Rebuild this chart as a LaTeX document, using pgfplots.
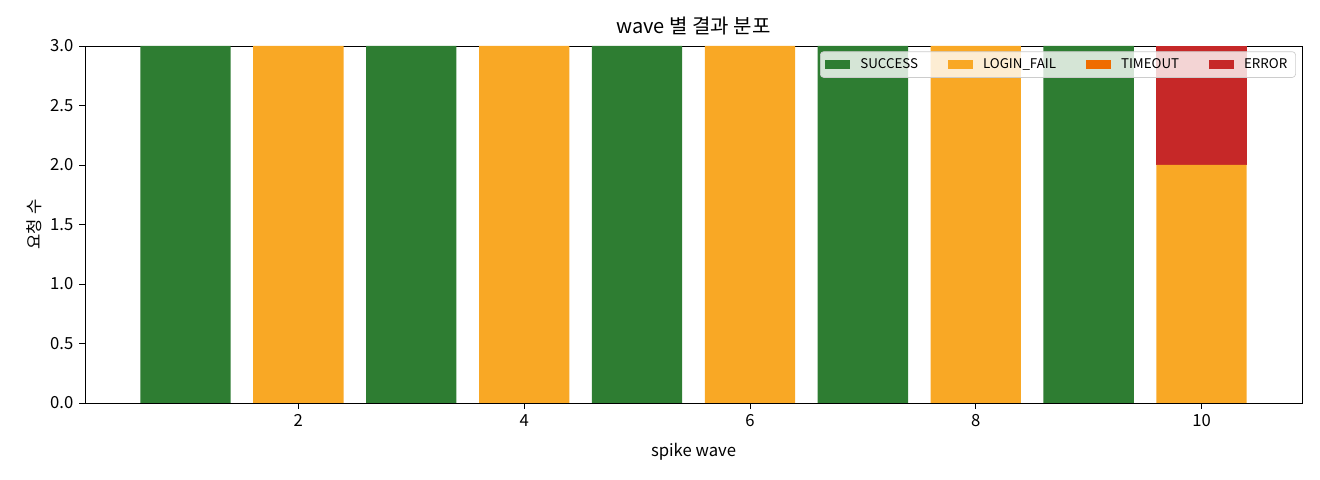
\documentclass[border=0pt]{standalone}
\usepackage{pgfplots}
\pgfplotsset{compat=1.18}
\usepackage{fontspec}
\setmainfont{Noto Sans CJK KR}
\definecolor{cSuccess}{HTML}{2E7D32}
\definecolor{cLogin}{HTML}{F9A825}
\definecolor{cTimeout}{HTML}{EF6C00}
\definecolor{cError}{HTML}{C62828}
\begin{document}
\begin{tikzpicture}[font=\fontsize{10pt}{12pt}\selectfont]
  \path (0,0) rectangle (792pt,288pt);
  \begin{axis}[
    at={(51pt,46.2pt)}, anchor=south west,
    scale only axis,
    width=730.2pt, height=214.2pt,
    ybar stacked,
    bar width=0.8,
    xmin=0.11, xmax=10.89,
    ymin=0, ymax=3,
    xtick={2,4,6,8,10},
    ytick={0,0.5,...,3},
    yticklabel style={/pgf/number format/.cd,fixed,fixed zerofill,precision=1},
    /pgf/number format/assume math mode=true,
    tick align=outside,
    tick pos=left,
    major tick length=3.5pt,
    tick style={black, line width=0.5pt},
    axis line style={line width=0.5pt},
    title={wave 별 결과 분포},
    title style={font=\fontsize{12pt}{14pt}\selectfont, yshift=-3pt},
    xlabel={spike wave},
    ylabel={요청 수},
    xlabel style={yshift=-3pt},
    ylabel style={yshift=-2pt},
    legend columns=4,
    legend style={
      at={(0.995,0.985)}, anchor=north east,
      font=\fontsize{8pt}{9pt}\selectfont,
      fill=white, fill opacity=0.8, text opacity=1,
      draw=black!20, rounded corners=2pt,
      /tikz/every odd column/.append style={column sep=4pt},
      /tikz/every even column/.append style={column sep=16pt},
    },
    legend image code/.code={\fill[#1,draw=none,fill opacity=1,rounded corners=0pt] (0pt,-2.6pt) rectangle (15pt,2.6pt);},
  ]
    \addplot[fill=cSuccess, draw=none] coordinates {
      (1,3) (2,0) (3,3) (4,0) (5,3) (6,0) (7,3) (8,0) (9,3) (10,0)
    };
    \addlegendentry{SUCCESS}
    \addplot[fill=cLogin, draw=none] coordinates {
      (1,0) (2,3) (3,0) (4,3) (5,0) (6,3) (7,0) (8,3) (9,0) (10,2)
    };
    \addlegendentry{LOGIN\_FAIL}
    \addplot[fill=cTimeout, draw=none] coordinates {
      (1,0) (2,0) (3,0) (4,0) (5,0) (6,0) (7,0) (8,0) (9,0) (10,0)
    };
    \addlegendentry{TIMEOUT}
    \addplot[fill=cError, draw=none] coordinates {
      (1,0) (2,0) (3,0) (4,0) (5,0) (6,0) (7,0) (8,0) (9,0) (10,1)
    };
    \addlegendentry{ERROR}
  \end{axis}
\end{tikzpicture}
\end{document}
